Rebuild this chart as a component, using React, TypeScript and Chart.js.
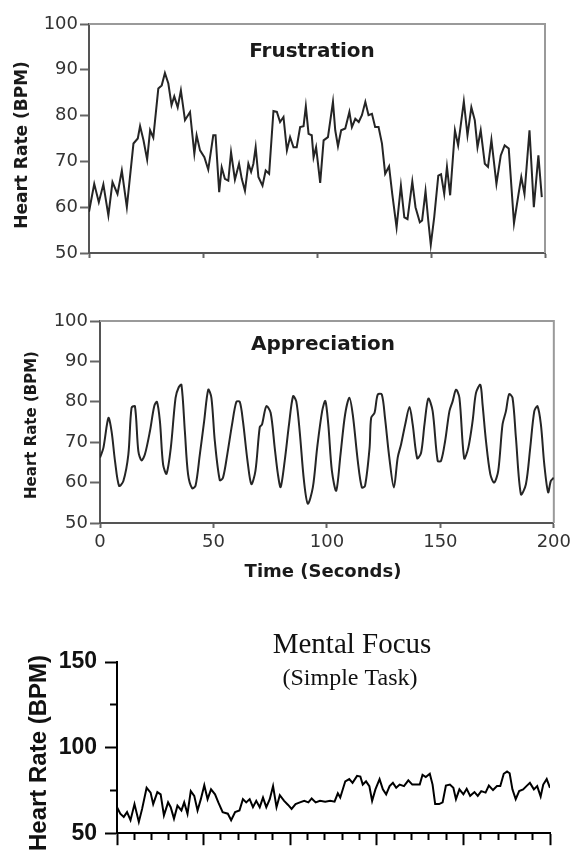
import React, { useEffect, useRef } from 'react';
import { Chart, registerables } from 'chart.js';

Chart.register(...registerables);

// ---------- Frustration (top) ----------
const frustrationTime = [
  0, 2.3, 4.3, 6.3, 8.5, 10.3, 12.5, 14.4, 16.6, 19.5, 21.4, 22.4, 23.9, 25.5, 26.8, 28.2,
  30.4, 31.9, 33.3, 34.8, 36.2, 37.4, 38.9, 40.3, 42.1, 44.3, 46.2, 47.2, 48.7, 50.6, 52.3,
  54.5, 55.5, 57.1, 58.2, 59.6, 61.1, 62.3, 64, 65.8, 67, 68.4, 69.9, 71.1, 72.1, 73.1, 74.3,
  76.1, 77.5, 79, 80.9, 82.4, 83.8, 85.3, 86.8, 88.2, 89.7, 91.1, 92.6, 94.1, 95.1, 96.3,
  97.7, 98.5, 99.6, 101.4, 102.9, 104.8, 107, 108, 109.2, 110.6, 112.4, 114.2, 115.3, 116.8,
  118.3, 119.7, 121.2, 122.6, 124.1, 125.5, 127, 128.5, 129.9, 131.6, 133, 134.9, 136.8,
  138.3, 139.7, 141.8, 143.2, 145.1, 146.1, 147.6, 148.8, 149.9, 151.4, 153.2, 154.4, 155.8,
  157, 158.4, 160.5, 161.9, 164.4, 166, 167.7, 169.2, 170.4, 171.8, 173.6, 175, 176.5, 178.7,
  180.6, 182.3, 184.1, 186.4, 188.4, 189.6, 191, 193.2, 195.1, 197.1, 198.6,
];
const frustrationBpm = [
  59, 65.1, 61.1, 65, 58.2, 65.5, 62.9, 68, 60, 73.9, 75, 77.7, 74.6, 70.4, 76.8, 75.2,
  85.9, 86.6, 89.3, 87, 82.3, 84.2, 81.8, 85.5, 79, 80.8, 71.7, 75.7, 72.4, 70.9, 68.2,
  75.7, 75.7, 63.3, 68.7, 66.2, 65.8, 72, 66, 69.5, 66.2, 63.6, 69.5, 67.7, 69.5, 73.1, 66.6,
  64.7, 68, 67.3, 81, 80.8, 78.6, 79.7, 72.4, 75.3, 73.1, 73.1, 77.5, 77.7, 82, 76,
  75.7, 70.9, 73.1, 65.3, 74.6, 75.3, 83, 76.8, 73.3, 76.8, 77.2, 80.8, 77.5, 79.3,
  78.6, 80.1, 83, 80.1, 80.4, 77.5, 77.5, 73.9, 67.3, 68.9, 62.9, 55.6, 64.7,
  57.8, 57.4, 65.6, 60, 56.7, 57.1, 63.5, 57.1, 51.8, 57.8, 66.9, 67.2, 62.9,
  68.8, 62.6, 76.8, 73.5, 83.1, 75.7, 81.8, 79, 73.1, 76.8, 69.5, 68.8, 74.7, 65.1,
  71.3, 73.5, 72.8, 56.5, 62.9, 66.6, 62.9, 76.8, 60, 71.3, 62.2,
];

// ---------- Appreciation (middle) ----------
const appreciationTime = [
  0, 1.5, 3.7, 5.1, 6.6, 8.4, 10.3, 12.5, 13.9, 15.4, 16.9, 18.3, 19.8, 22, 23.9, 25.1, 26.4,
  27.8, 29.3, 31.2, 33.3, 34.7, 35.9, 37.4, 38.8, 40.6, 42.1, 44, 45.9, 47.7, 49.1, 50.6,
  52.8, 54.2, 56.1, 58.2, 60.1, 61.6, 63, 65, 66.7, 68.5, 70.4, 71.4, 73.3, 75.2, 77, 78.4,
  79.6, 81.4, 83.3, 85.1, 86.5, 88, 89.9, 91.6, 93.8, 95.7, 97.9, 99.3, 100.6, 102.2, 104.1,
  106, 108, 109.9, 111.4, 113.6, 115.4, 116.8, 118.8, 119.5, 121, 122.4, 124.2, 125.6, 127.5,
  129.5, 131.2, 132.7, 134.5, 136.4, 137.8, 139.8, 141.5, 143, 144.7, 146.6, 148.8, 150.3,
  152.1, 154, 155.4, 156.9, 158.4, 160.5, 162.3, 164.2, 165.7, 167.6, 168.6, 170.1, 172,
  173.7, 175.5, 177.4, 178.9, 180.3, 181.8, 183.3, 185.5, 187.7, 189.6, 191.4, 192.8, 194.3,
  195.8, 197.5, 198.7, 200,
];
const appreciationBpm = [
  66.2, 68.6, 76, 72.7, 65.4, 59.2, 60.4, 67, 78.5, 78.9, 67.8, 65.5, 67, 72.7, 78.9, 80, 75.2,
  64.5, 62.2, 68.6, 81, 83.6, 84.2, 72.7, 62.1, 58.6, 59.2, 67, 75.2, 83, 81, 70.3,
  60.6, 61.2, 67, 74.4, 80, 80, 75.2, 65.4, 59.6, 62.9, 73.7, 74.4, 78.9, 77.3, 68.6, 62.1,
  58.9, 65.4, 74.4, 81.4, 80.1, 72.7, 60.4, 54.8, 58.8, 68.6, 77.7, 80.2, 74.4, 62.9, 58,
  67, 76.8, 81, 76.8, 65.4, 58.8, 59.2, 68.6, 76, 77.3, 81.8, 81.8, 76, 66.2,
  58.8, 66.2, 69.5, 74.4, 78.7, 74.4, 66, 67.4, 74.4, 80.8, 77.7, 65.4, 65.4,
  70.3, 77.7, 80.1, 83, 81, 66, 68.6, 75.2, 82.2, 84.2, 79.3, 70.3, 62.1,
  60, 62.9, 74.4, 77.7, 81.9, 81, 71.1, 57.1, 59.6, 68.6, 77.7, 78.9, 74.4,
  64.5, 57.6, 60.4, 61.2,
];

// ---------- Mental Focus (bottom) ----------
const focusTime = [
  0, 1.9, 3.9, 5.8, 7.8, 10.1, 12.6, 14.5, 17.1, 19.4, 20.9, 23.3, 25.2, 27.1, 29.5, 31, 32.9,
  34.9, 37.2, 38.8, 40.7, 42.6, 44.6, 46.5, 48.4, 50.4, 52.3, 54.3, 56.6, 58.5, 61, 64, 65.9,
  68.2, 70.7, 72.7, 74.6, 76.6, 78.5, 80.4, 82.4, 84.3, 86.2, 88.2, 90.1, 92.1, 94, 96.5,
  98.8, 100.8, 103.1, 105.6, 108.1, 110.5, 112.4, 114.7, 117.2, 120.2, 123.1, 125.6, 127.5,
  128.9, 131.8, 134.1, 136, 138.6, 140.5, 141.9, 143.8, 145.7, 147.3, 149.2, 151.6, 153.5,
  155.4, 157.4, 159.3, 161.2, 163.2, 165.7, 168.2, 170.5, 172.9, 174.8, 176.4, 178.3, 180.6,
  182.2, 183.7, 186, 188, 189.9, 192.2, 194.2, 195.7, 197.7, 200, 201.9, 203.9, 206.4, 208.3,
  210.3, 212.8, 214.7, 217.1, 219.4, 221.3, 223.3, 225.2, 226.7, 228.3, 230.2, 232.2, 234.5,
  236.4, 238.4, 240.7, 242.6, 244.6, 246.1, 248.1, 250,
];
const focusBpm = [
  65.2, 61.4, 59.5, 62.3, 57.6, 67, 56.6, 64.2, 76.5, 73.7, 67, 74, 72.7, 60.4, 68, 65.2, 58.5,
  66.1, 63.3, 68, 61.4, 74.6, 71.8, 63.3, 69.9, 78, 69.9, 75.6, 72.7, 68, 62.3, 61.4, 57.6,
  62.3, 63.3, 69.9, 68, 69.9, 65.2, 68.9, 65.2, 70.8, 65.2, 69.9, 77.5, 65.2, 72.2, 68.9,
  66.5, 64.2, 67, 68, 68.9, 68, 70.3, 68, 68.9, 68.4, 68.9, 68.4, 73.3,
  70.8, 80.3, 81.6, 79.4, 83.5, 83.1, 78.4, 80.3, 77.5, 68.9, 75.6, 81.6, 75.6,
  72.7, 77.5, 79.4, 76.5, 78.4, 77.5, 80.9, 78.4, 78.4, 78.4, 84.1, 82.8, 84.7,
  78.4, 67, 67, 68, 77.8, 78.4, 76.5, 69.9, 75.6, 72.7, 75.9, 71.8, 74, 71.8,
  74.6, 73.7, 77.8, 75.2, 77.5, 77.5, 84.7, 86, 85, 75.6, 69.9, 74.6, 75.6,
  77.5, 79.4, 75.6, 77.5, 71.4, 78.4, 81.6, 76.5,
];

// ---------- axis settings ----------
const topYTicks = { min: 50, max: 100, step: 10 };
const timeTicks = { min: 0, max: 200, step: 50 };
const focusYTicks = { min: 50, max: 150, step: 25, labelEvery: 50 };
const focusXTicks = { min: 0, max: 250, step: 10, majorEvery: 50 };

type TextItem = {
  text: string;
  x: number;
  y: number;
  font: string;
  color?: string;
  rotate?: number;
  align?: CanvasTextAlign;
  baseline?: CanvasTextBaseline;
};

function makeTexts(items: TextItem[]) {
  return {
    id: 'texts',
    afterDraw(chart: any) {
      const ctx = chart.ctx as CanvasRenderingContext2D;
      for (const it of items) {
        ctx.save();
        ctx.translate(it.x, it.y);
        if (it.rotate) ctx.rotate(it.rotate);
        ctx.font = it.font;
        ctx.fillStyle = it.color || '#222';
        ctx.textAlign = it.align || 'center';
        ctx.textBaseline = it.baseline || 'middle';
        ctx.fillText(it.text, 0, 0);
        ctx.restore();
      }
    },
  };
}

function makeFrame(color: string, width: number) {
  return {
    id: 'frame',
    beforeDatasetsDraw(chart: any) {
      const { ctx, chartArea: a } = chart;
      ctx.save();
      ctx.strokeStyle = color;
      ctx.lineWidth = width;
      ctx.beginPath();
      ctx.moveTo(a.left, a.top);
      ctx.lineTo(a.right, a.top);
      ctx.lineTo(a.right, a.bottom);
      ctx.stroke();
      ctx.restore();
    },
  };
}

const pts = (xs: number[], ys: number[]) => xs.map((x, i) => ({ x, y: ys[i] }));

const SANS = "'DejaVu Sans'";

function topChartConfig(opts: {
  xs: number[];
  ys: number[];
  tension: number;
  padTop: number;
  padRight: number;
  yWidth: number;
  xHeight: number;
  yTickLen: number;
  showXLabels: boolean;
  texts: TextItem[];
}) {
  return {
    type: 'line',
    data: {
      datasets: [
        {
          data: pts(opts.xs, opts.ys),
          borderColor: '#252525',
          borderWidth: 2,
          pointRadius: 0,
          tension: opts.tension,
          fill: false,
        },
      ],
    },
    options: {
      responsive: false,
      animation: false,
      devicePixelRatio: 1,
      layout: { padding: { left: 0, top: opts.padTop, right: opts.padRight, bottom: 0 } },
      plugins: { legend: { display: false }, tooltip: { enabled: false }, title: { display: false } },
      scales: {
        x: {
          type: 'linear',
          min: timeTicks.min,
          max: timeTicks.max,
          ticks: {
            display: opts.showXLabels,
            stepSize: timeTicks.step,
            padding: 4,
            color: '#333',
            font: { family: SANS, size: 18 },
            maxRotation: 0,
          },
          grid: { drawOnChartArea: false, tickLength: 5, tickColor: '#666', tickWidth: 2 },
          border: { color: '#555', width: 2 },
          afterFit: (s: any) => {
            s.height = opts.xHeight;
          },
        },
        y: {
          type: 'linear',
          min: topYTicks.min,
          max: topYTicks.max,
          ticks: {
            stepSize: topYTicks.step,
            padding: 2,
            color: '#333',
            font: { family: SANS, size: 18 },
          },
          grid: { drawOnChartArea: false, tickLength: opts.yTickLen, tickColor: '#666', tickWidth: 2 },
          border: { color: '#555', width: 2 },
          afterFit: (s: any) => {
            s.width = opts.yWidth;
          },
        },
      },
    },
    plugins: [makeFrame('#9a9a9a', 2), makeTexts(opts.texts)],
  };
}

function focusConfig() {
  return {
    type: 'line',
    data: {
      datasets: [
        {
          data: pts(focusTime, focusBpm),
          borderColor: '#000',
          borderWidth: 2,
          pointRadius: 0,
          tension: 0,
          fill: false,
        },
      ],
    },
    options: {
      responsive: false,
      animation: false,
      devicePixelRatio: 1,
      layout: { padding: { left: 0, top: 62, right: 25, bottom: 0 } },
      plugins: { legend: { display: false }, tooltip: { enabled: false } },
      scales: {
        x: {
          type: 'linear',
          min: focusXTicks.min,
          max: focusXTicks.max,
          ticks: { display: false, stepSize: focusXTicks.step },
          grid: {
            drawOnChartArea: false,
            tickLength: 12,
            tickColor: '#000',
            tickWidth: 2,
            tickBorderDash: (c: any) =>
              c.tick && Math.round(c.tick.value) % focusXTicks.majorEvery === 0 ? [] : [6, 100],
          },
          border: { color: '#000', width: 2 },
          afterFit: (s: any) => {
            s.height = 12;
          },
        },
        y: {
          type: 'linear',
          min: focusYTicks.min,
          max: focusYTicks.max,
          ticks: {
            stepSize: focusYTicks.step,
            padding: 8,
            color: '#111',
            font: { family: "'Liberation Sans'", size: 23, weight: 'bold' },
            callback: (v: any) => (Number(v) % focusYTicks.labelEvery === 0 ? String(v) : ''),
          },
          grid: {
            drawOnChartArea: false,
            tickLength: 12,
            tickColor: '#000',
            tickWidth: 2,
            tickBorderDash: (c: any) =>
              c.tick && Math.round(c.tick.value) % focusYTicks.labelEvery === 0 ? [] : [0, 5, 7, 100],
          },
          border: { color: '#000', width: 2 },
          afterFit: (s: any) => {
            s.width = 117;
          },
        },
      },
    },
    plugins: [
      makeTexts([
        { text: 'Mental Focus', x: 352, y: 53, font: "29px 'Liberation Serif'", color: '#111', baseline: 'alphabetic' },
        { text: '(Simple Task)', x: 350, y: 85, font: "24px 'Liberation Serif'", color: '#111', baseline: 'alphabetic' },
        {
          text: 'Heart Rate (BPM)',
          x: 39,
          y: 153,
          font: "bold 24px 'Liberation Sans'",
          color: '#111',
          rotate: -Math.PI / 2,
        },
      ]),
    ],
  };
}

function ChartBox({ top, height, make }: { top: number; height: number; make: () => any }) {
  const ref = useRef<HTMLCanvasElement>(null);
  useEffect(() => {
    if (!ref.current) return;
    const chart = new Chart(ref.current, make());
    return () => chart.destroy();
  }, []);
  return (
    <div style={{ position: 'absolute', left: 0, top, width: 575, height }}>
      <canvas ref={ref} width={575} height={height} style={{ width: 575, height, display: 'block' }} />
    </div>
  );
}

export default function App() {
  return (
    <div style={{ position: 'absolute', left: 0, top: 0, width: 575, height: 855, background: '#fff', overflow: 'hidden' }}>
      <ChartBox
        top={0}
        height={275}
        make={() =>
          topChartConfig({
            xs: frustrationTime,
            ys: frustrationBpm,
            tension: 0,
            padTop: 24,
            padRight: 30,
            yWidth: 89,
            xHeight: 22,
            yTickLen: 9,
            showXLabels: false,
            texts: [
              { text: 'Frustration', x: 312, y: 57, font: `bold 20px ${SANS}`, color: '#1a1a1a', baseline: 'alphabetic' },
              { text: 'Heart Rate (BPM)', x: 23, y: 145, font: `bold 17px ${SANS}`, color: '#1a1a1a', rotate: -Math.PI / 2 },
            ],
          })
        }
      />
      <ChartBox
        top={275}
        height={325}
        make={() =>
          topChartConfig({
            xs: appreciationTime,
            ys: appreciationBpm,
            tension: 0.3,
            padTop: 46,
            padRight: 18,
            yWidth: 100,
            xHeight: 77,
            yTickLen: 10,
            showXLabels: true,
            texts: [
              { text: 'Appreciation', x: 323, y: 75, font: `bold 20px ${SANS}`, color: '#1a1a1a', baseline: 'alphabetic' },
              { text: 'Heart Rate (BPM)', x: 32, y: 150, font: `bold 15px ${SANS}`, color: '#1a1a1a', rotate: -Math.PI / 2 },
              { text: 'Time (Seconds)', x: 323, y: 302, font: `bold 18px ${SANS}`, color: '#1a1a1a', baseline: 'alphabetic' },
            ],
          })
        }
      />
      <ChartBox top={600} height={255} make={focusConfig} />
    </div>
  );
}
